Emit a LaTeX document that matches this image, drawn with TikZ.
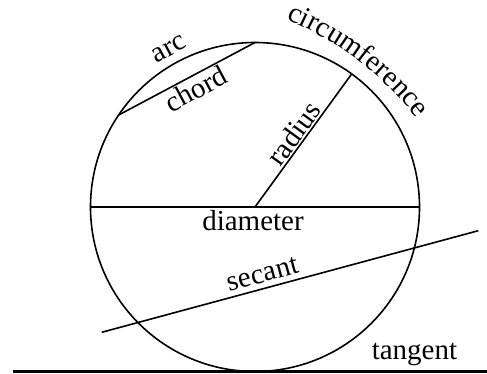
\documentclass[tikz,border=0pt]{standalone}
\usepackage{fontspec}
\setmainfont{Liberation Serif}
\usetikzlibrary{calc,decorations.text}
\begin{document}
\begin{tikzpicture}[x=1pt,y=1pt,
  geo/.style={line width=1.6pt, draw=black},
  lbl/.style={font=\fontsize{29}{34}\selectfont, inner sep=2pt, text=black}]
\useasboundingbox (0,0) rectangle (487,373);
\coordinate (C) at (255,166);
\node[geo, circle, minimum size=329pt, inner sep=0pt, outer sep=0pt] (circ) at (C) {};
% diameter
\draw[geo] (circ.west) -- node[lbl, pos=0.494, anchor=north, inner sep=2.5pt] (dialbl) {diameter} (circ.east);
% chord
\draw[geo] (circ.146.1) -- node[lbl, pos=0.52, sloped, anchor=north] (chordlbl) {chord} (circ.90);
% radius
\draw[geo] (circ.center) -- node[lbl, pos=0.5, sloped, anchor=south, inner sep=1pt] (radlbl) {radius} (circ.54.5);
% secant
\coordinate (S1) at (101.7,40.7);
\coordinate (S2) at (478.3,142.3);
\draw[geo] (S1) -- node[lbl, pos=0.4376, sloped, anchor=south, inner sep=5pt] (seclbl) {secant} (S2);
% tangent
\coordinate (T1) at (13,1.5);
\coordinate (T2) at (487,1.5);
\draw[line width=2.6pt, black] (T1) -- node[lbl, pos=0.847, anchor=base, yshift=12.2pt] (tanlbl) {tangent} (T2);
% arc
\node[lbl, anchor=base, rotate=28.5] (arclbl) at ($(C)+(118.5:173)$) {arc};
% circumference
\coordinate (O2) at (167.75,62.85);
\path[decorate, decoration={text along path, text align=center,
  text={|\fontsize{29}{34}\selectfont|circumference}}]
  ($(O2)+(73.5:314)$) arc[start angle=73.5, end angle=32, radius=314];
\end{tikzpicture}
\end{document}
